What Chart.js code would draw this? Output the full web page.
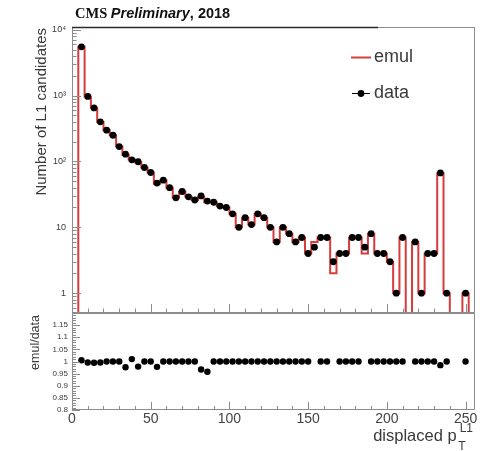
<!DOCTYPE html>
<html><head><meta charset="utf-8">
<script src="https://cdn.jsdelivr.net/npm/chart.js@4.4.1/dist/chart.umd.min.js"></script>
<style>
html,body{margin:0;padding:0;background:#fff;}
#wrap{position:relative;width:487px;height:451px;background:#fff;}
canvas{position:absolute;left:0;top:0;}
</style></head><body>
<div id="wrap"><canvas id="main" width="487" height="451"></canvas><canvas id="ratio" width="487" height="451"></canvas></div>
<script>
// ---- data (bins of width 4 in displaced pT, centres) ----
const binCenters = [2,6,10,14,18,22,26,30,34,38,42,46,50,54,58,62,66,70,74,78,82,86,90,94,98,102,106,110,114,118,122,126,130,134,138,142,146,150,154,158,162,166,170,174,178,182,186,190,194,198,202,206,210,214,218,222,226,230,234,238,242,246,250,254];
const binWidth = 4;
const dataCounts = [0,5500,970,650,400,298,250,168,129,106,99,81,68,47,52,40,28,35,29,26,30,25,24,21,20,16,10,14,11,16,14,10,6,10,8,6,7,4,5,7,7,3,4,4,7,7,5,8,4,4,3,1,7,0,6,1,4,4,67,1,0,0,1,0];
const emulCounts = [0,5530,966,647,398,298,250,168,126,107,97,81,68,46,52,40,28,35,29,26,29,24,24,21,20,16,10,14,11,16,14,10,6,10,8,6,7,4,6,7,7,2,4,4,7,7,4,8,4,4,3,1,7,0,6,1,4,4,66,1,0,0,1,0];
const ratioValues = [null,1.005,0.996,0.995,0.996,1,1,1,0.976,1.01,0.979,1,1,0.978,1,1,1,1,1,1,0.967,0.958,1,1,1,1,1,1,1,1,1,1,1,1,1,1,1,1,null,1,1,null,1,1,1,1,null,1,1,1,1,1,1,null,1,1,1,1,0.985,1,null,null,1,null];

const xTickValues = [0,50,100,150,200,250];
const xTickLabels = ['0','50','100','150','200','250'];
const mainYTickValues = [1,10,100,1000,10000];
const mainYTickLabels = ['1','10','10\u00B2','10\u00B3','10\u2074'];
const ratioYTickValues = [0.8,0.85,0.9,0.95,1,1.05,1.1,1.15];
const ratioYTickLabels = ['0.8','0.85','0.9','0.95','1','1.05','1.1','1.15'];

// ---- styling ----
const RED = '#d63c3c';
const FRAME = '#8c8c8c';
const TXT = '#3a3a3a';
const SANS = '"Liberation Sans", Arial, sans-serif';
const SERIF = '"Liberation Serif", "Times New Roman", serif';
const X_MIN = 0, X_MAX = 256;
const Y_MIN = 0.5, Y_MAX = 11000;
const LOG_FLOOR = 0.2; // empty bins drawn below the visible range (clipped)

const emulPts = binCenters.map((c,i)=>({x:c-binWidth/2, y: emulCounts[i]>0 ? emulCounts[i] : LOG_FLOOR}));
emulPts.push({x: binCenters[binCenters.length-1]+binWidth/2, y: LOG_FLOOR});
const dataPts = binCenters.map((c,i)=> dataCounts[i]>0 ? {x:c, y:dataCounts[i]} : null).filter(Boolean);
const ratioPts = binCenters.map((c,i)=> ratioValues[i]!=null ? {x:c, y:ratioValues[i]} : null).filter(Boolean);

// tick mark positions (axis decoration)
const xMinor = []; for (let v=0; v<=250; v+=10) if (v%50) xMinor.push(v);
const yMinorLog = []; for (const d of [0.1,1,10,100,1000]) for (let k=2;k<=9;k++){const v=k*d; if(v>=Y_MIN && v<=Y_MAX) yMinorLog.push(v);}
const rMajor = [0.8,0.85,0.9,0.95,1,1.05,1.1,1.15,1.2];
const rMinor = []; for (let k=80;k<=120;k++) if (k%5) rMinor.push(k/100);

function line(ctx,x1,y1,x2,y2){ctx.moveTo(x1,y1);ctx.lineTo(x2,y2);}

const mainDecor = {
  id:'mainDecor',
  afterDatasetsDraw(chart){
    const {ctx, chartArea:a, scales:{x,y}} = chart;
    ctx.save();
    ctx.lineWidth = 1; ctx.strokeStyle = FRAME;
    ctx.beginPath();
    line(ctx, a.left+0.5, a.top+0.5, a.left+0.5, a.bottom);
    line(ctx, a.right-0.5, a.top+0.5, a.right-0.5, a.bottom);
    line(ctx, a.left, a.bottom-0.5, a.right, a.bottom-0.5);
    for (const v of xTickValues){const p=Math.round(x.getPixelForValue(v))+0.5; line(ctx,p,a.bottom,p,a.bottom-9);}
    for (const v of xMinor){const p=Math.round(x.getPixelForValue(v))+0.5; line(ctx,p,a.bottom,p,a.bottom-4.5);}
    for (const v of mainYTickValues){const p=Math.round(y.getPixelForValue(v))+0.5; line(ctx,a.left,p,a.left+9,p);}
    for (const v of yMinorLog){const p=Math.round(y.getPixelForValue(v))+0.5; line(ctx,a.left,p,a.left+4.5,p);}
    ctx.stroke();
    // top frame
    ctx.beginPath(); ctx.strokeStyle='#2a2a2a'; ctx.lineWidth=1.3;
    line(ctx, a.left, a.top+0.5, 378, a.top+0.5); ctx.stroke();
    ctx.beginPath(); ctx.strokeStyle=FRAME; ctx.lineWidth=1;
    line(ctx, 378, a.top+0.5, a.right, a.top+0.5); ctx.stroke();
    ctx.restore();
  },
  afterDraw(chart){
    const {ctx} = chart;
    ctx.save();
    // header
    ctx.fillStyle = '#111'; ctx.textBaseline='alphabetic'; ctx.textAlign='left';
    let xx = 75;
    ctx.font = 'bold 14.5px '+SERIF; ctx.fillText('CMS', xx, 18); xx += ctx.measureText('CMS ').width;
    ctx.font = 'italic bold 14.5px '+SANS; ctx.fillText('Preliminary', xx, 18); xx += ctx.measureText('Preliminary').width;
    ctx.font = 'bold 14.5px '+SANS; ctx.fillText(', 2018', xx, 18);
    // y title
    ctx.fillStyle = TXT; ctx.font = '15px '+SANS;
    ctx.translate(42, 28); ctx.rotate(-Math.PI/2); ctx.textAlign='right'; ctx.textBaseline='middle';
    ctx.fillText('Number of L1 candidates', 0, 0);
    ctx.setTransform(1,0,0,1,0,0);
    // legend
    ctx.strokeStyle = RED; ctx.lineWidth = 2;
    ctx.beginPath(); line(ctx, 351, 57.5, 371, 57.5); ctx.stroke();
    ctx.fillStyle = TXT; ctx.font = '18px '+SANS; ctx.textAlign='left'; ctx.textBaseline='middle';
    ctx.fillText('emul', 374, 57);
    ctx.strokeStyle = '#000'; ctx.lineWidth = 1;
    ctx.beginPath(); line(ctx, 352, 93.5, 370, 93.5); ctx.stroke();
    ctx.fillStyle = '#000'; ctx.beginPath(); ctx.arc(361, 93.5, 3.4, 0, Math.PI*2); ctx.fill();
    ctx.fillStyle = TXT; ctx.fillText('data', 374, 93);
    ctx.restore();
  }
};

const ratioDecor = {
  id:'ratioDecor',
  afterDatasetsDraw(chart){
    const {ctx, chartArea:a, scales:{x,y}} = chart;
    ctx.save();
    ctx.lineWidth = 1; ctx.strokeStyle = FRAME;
    ctx.beginPath();
    ctx.rect(a.left+0.5, a.top+0.5, a.right-a.left-1, a.bottom-a.top-1);
    for (const v of xTickValues){const p=Math.round(x.getPixelForValue(v))+0.5; line(ctx,p,a.bottom,p,a.bottom-8);}
    for (const v of xMinor){const p=Math.round(x.getPixelForValue(v))+0.5; line(ctx,p,a.bottom,p,a.bottom-4);}
    for (const v of rMajor){const p=Math.round(y.getPixelForValue(v))+0.5; line(ctx,a.left,p,a.left+8,p);}
    for (const v of rMinor){const p=Math.round(y.getPixelForValue(v))+0.5; line(ctx,a.left,p,a.left+4,p);}
    ctx.stroke();
    ctx.restore();
  },
  afterDraw(chart){
    const {ctx} = chart;
    ctx.save();
    ctx.fillStyle = TXT;
    ctx.font = '12.5px '+SANS;
    ctx.translate(36, 315); ctx.rotate(-Math.PI/2); ctx.textAlign='right'; ctx.textBaseline='middle';
    ctx.fillText('emul/data', 0, 0);
    ctx.setTransform(1,0,0,1,0,0);
    // x title: displaced p_T^L1
    ctx.textAlign='left'; ctx.textBaseline='alphabetic';
    ctx.font = '16.5px '+SANS; const w1 = ctx.measureText('displaced p').width;
    ctx.font = '12px '+SANS; const wL = ctx.measureText('L1').width;
    const x0 = 473 - (w1 + 3 + wL);
    ctx.font = '16.5px '+SANS; ctx.fillText('displaced p', x0, 441);
    ctx.font = '12px '+SANS; ctx.fillText('L1', x0 + w1 + 3, 432); ctx.fillText('T', x0 + w1 + 1.5, 450);
    ctx.restore();
  }
};

Chart.defaults.font.family = SANS;

new Chart(document.getElementById('main'), {
  type: 'line',
  data: { datasets: [
    { label:'emul', data: emulPts, stepped:'before', borderColor: RED, borderWidth: 2, pointRadius: 0, fill:false, tension:0, order:2 },
    { type:'scatter', label:'data', data: dataPts, pointRadius: 3.4, pointBackgroundColor:'#000', pointBorderColor:'#000', pointBorderWidth:0, showLine:false, order:1 }
  ]},
  options: {
    responsive:false, animation:false, devicePixelRatio:1, events:[],
    layout:{padding:{top:27, bottom:138, left:0, right:12}},
    plugins:{legend:{display:false}, tooltip:{enabled:false}},
    scales:{
      x:{type:'linear', min:X_MIN, max:X_MAX, display:false},
      y:{type:'logarithmic', min:Y_MIN, max:Y_MAX,
         grid:{display:false, drawTicks:false}, border:{display:false},
         afterFit: s => { s.width = 72; },
         afterBuildTicks: s => { s.ticks = mainYTickValues.map(v=>({value:v})); },
         ticks:{ autoSkip:false, padding:6, color:TXT, font:{size:9, family:SANS},
                 callback:(v,i)=> mainYTickLabels[i] }
      }
    }
  },
  plugins:[mainDecor]
});

new Chart(document.getElementById('ratio'), {
  type: 'scatter',
  data: { datasets: [
    { label:'ratio', data: ratioPts, pointRadius: 3.2, pointBackgroundColor:'#000', pointBorderColor:'#000', pointBorderWidth:0, showLine:false }
  ]},
  options: {
    responsive:false, animation:false, devicePixelRatio:1, events:[],
    layout:{padding:{top:313, bottom:0, left:0, right:12}},
    plugins:{legend:{display:false}, tooltip:{enabled:false}},
    scales:{
      x:{type:'linear', min:X_MIN, max:X_MAX,
         grid:{display:false, drawTicks:false}, border:{display:false},
         afterFit: s => { s.height = 41; },
         afterBuildTicks: s => { s.ticks = xTickValues.map(v=>({value:v})); },
         ticks:{ autoSkip:false, maxRotation:0, minRotation:0, padding:1, color:'#444', font:{size:14, family:SANS},
                 callback:(v,i)=> xTickLabels[i] }
      },
      y:{type:'linear', min:0.8, max:1.2,
         grid:{display:false, drawTicks:false}, border:{display:false},
         afterFit: s => { s.width = 72; },
         afterBuildTicks: s => { s.ticks = ratioYTickValues.map(v=>({value:v})); },
         ticks:{ autoSkip:false, padding:4, color:TXT, font:{size:8, family:SANS},
                 callback:(v,i)=> ratioYTickLabels[i] }
      }
    }
  },
  plugins:[ratioDecor]
});
</script>
</body></html>
